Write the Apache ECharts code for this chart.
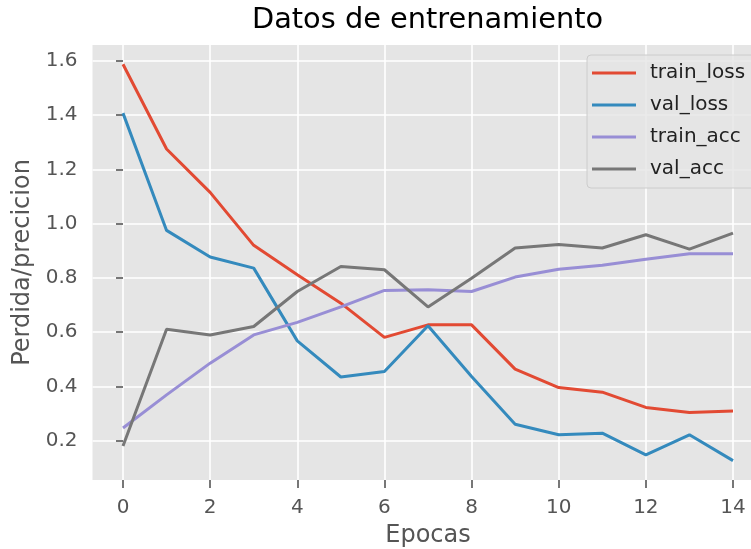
<!DOCTYPE html>
<html>
<head>
<meta charset="utf-8">
<script src="https://cdn.jsdelivr.net/npm/echarts@6/dist/echarts.min.js"></script>
<style>
  html, body { margin: 0; padding: 0; background: #fff; }
  #chart { width: 751px; height: 549px; }
</style>
</head>
<body>
<div id="chart"></div>
<script>
// datos
var epochs = [0, 1, 2, 3, 4, 5, 6, 7, 8, 9, 10, 11, 12, 13, 14];
var trainLoss = [1.587, 1.275, 1.115, 0.920, 0.812, 0.707, 0.581, 0.627, 0.627, 0.464, 0.396, 0.379, 0.323, 0.304, 0.310];
var valLoss = [1.407, 0.975, 0.877, 0.836, 0.568, 0.435, 0.455, 0.624, 0.437, 0.261, 0.222, 0.228, 0.148, 0.222, 0.127];
var trainAcc = [0.247, 0.369, 0.486, 0.590, 0.636, 0.693, 0.754, 0.756, 0.750, 0.803, 0.832, 0.847, 0.869, 0.889, 0.889];
var valAcc = [0.181, 0.611, 0.590, 0.621, 0.750, 0.842, 0.830, 0.693, 0.799, 0.910, 0.923, 0.910, 0.959, 0.906, 0.965];

var xTicks = [0, 2, 4, 6, 8, 10, 12, 14];
var yTicks = [0.2, 0.4, 0.6, 0.8, 1.0, 1.2, 1.4, 1.6];

var names = ['train_loss', 'val_loss', 'train_acc', 'val_acc'];
var colors = ['#E24A33', '#348ABD', '#988ED5', '#777777'];

function pairs(ys) {
  return epochs.map(function (x, i) { return [x, ys[i]]; });
}

var font = 'DejaVu Sans';
var chart = echarts.init(document.getElementById('chart'));

var option = {
  animation: false,
  color: colors,
  title: {
    text: 'Datos de entrenamiento',
    left: 252,
    top: 6,
    padding: 0,
    textStyle: { fontFamily: font, fontSize: 28.8, fontWeight: 'normal', color: '#000' }
  },
  legend: {
    data: names,
    orient: 'vertical',
    left: 587,
    top: 55,
    padding: [8, 11, 9, 5],
    itemWidth: 44,
    itemHeight: 3,
    itemGap: 12,
    icon: 'rect',
    backgroundColor: 'rgba(229,229,229,0.8)',
    borderColor: '#cccccc',
    borderWidth: 1,
    borderRadius: 4,
    selectedMode: false,
    textStyle: { fontFamily: font, fontSize: 20, lineHeight: 20, color: '#222', padding: [0, 0, 0, 9] }
  },
  grid: {
    left: 92.5,
    top: 45,
    width: 671,
    height: 435,
    outerBoundsMode: 'none',
    show: true,
    backgroundColor: '#E5E5E5',
    borderWidth: 0
  },
  xAxis: {
    type: 'value',
    min: -0.7,
    max: 14.7,
    name: 'Epocas',
    nameLocation: 'middle',
    nameGap: 44,
    nameTextStyle: { fontFamily: font, fontSize: 24, color: '#555' },
    axisLine: { show: false },
    axisTick: { show: true, length: 8, customValues: xTicks, lineStyle: { color: '#555', width: 1.6 } },
    axisLabel: { customValues: xTicks, margin: 18, fontFamily: font, fontSize: 20, color: '#555' },
    splitLine: { show: true, lineStyle: { color: '#fff', width: 1.6 } }
  },
  yAxis: {
    type: 'value',
    min: 0.0555,
    max: 1.658,
    name: 'Perdida/precicion',
    nameLocation: 'middle',
    nameGap: 56,
    nameTextStyle: { fontFamily: font, fontSize: 24, color: '#555' },
    axisLine: { show: false },
    axisTick: { show: true, length: 7, customValues: yTicks, lineStyle: { color: '#555', width: 1.6 } },
    axisLabel: {
      customValues: yTicks, margin: 15, fontFamily: font, fontSize: 20, color: '#555',
      formatter: function (v) { return v.toFixed(1); }
    },
    splitLine: { show: true, lineStyle: { color: '#fff', width: 1.6 } }
  },
  series: [
    { name: names[0], type: 'line', data: pairs(trainLoss) },
    { name: names[1], type: 'line', data: pairs(valLoss) },
    { name: names[2], type: 'line', data: pairs(trainAcc) },
    { name: names[3], type: 'line', data: pairs(valAcc) }
  ].map(function (s) {
    s.symbol = 'none';
    s.lineStyle = { width: 3 };
    s.emphasis = { disabled: true };
    return s;
  })
};

chart.setOption(option);
</script>
</body>
</html>
